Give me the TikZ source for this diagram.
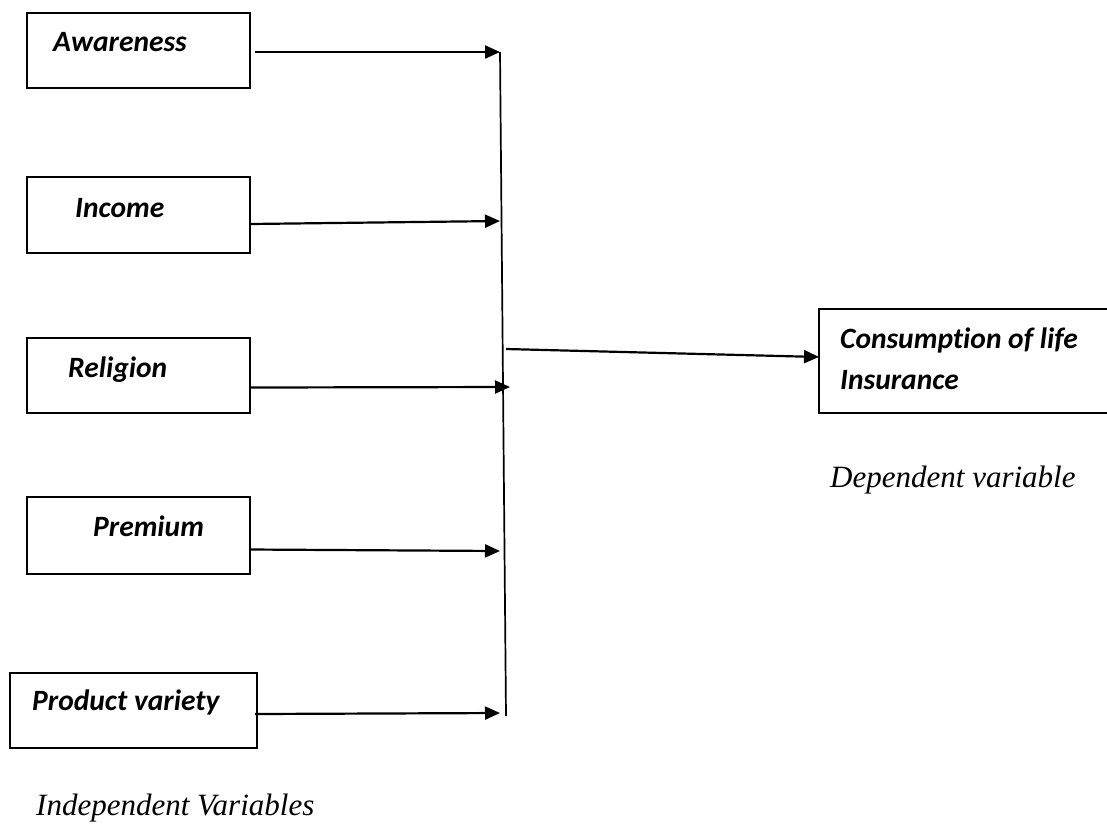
\documentclass[tikz,border=0pt]{standalone}
\usepackage{fontspec}
\setmainfont{Liberation Serif}
\setsansfont{Carlito}[Ligatures=NoCommon]
\usetikzlibrary{arrows.meta}
\tikzset{
  varbox/.style={draw, line width=1.5pt, inner sep=0pt, outer sep=0pt},
  varlbl/.style={inner sep=0pt, anchor=base west, font=\sffamily\bfseries\itshape\fontsize{29.5}{34}\selectfont},
  caption/.style={inner sep=0pt, anchor=base west, font=\itshape\fontsize{31}{37}\selectfont},
  feed/.style={line width=2.2pt, -{Triangle[length=15pt,width=13pt]}},
  bus/.style={line width=1.7pt}
}
\begin{document}
\begin{tikzpicture}[x=1pt, y=-1pt]
    \useasboundingbox (0,0) rectangle (1107,823);
    \clip (0,0) rectangle (1107,823);
    % independent variables: box left/top/right/bottom, label x/baseline
    \foreach \nm/\l/\t/\r/\b/\tx/\ty/\txt in {aw/27/13/250/88/53/51/Awareness,
        in/27/177/250/253/75/217/Income, re/27/338/250/413/68/377/Religion,
        pr/27/497/250/574/93/536/Premium, pv/10/673/257/748/32/710/Product variety} {
      \node[varbox, minimum width={\r-\l}, minimum height={\b-\t}] (\nm) at ({(\l+\r)/2},{(\t+\b)/2}) {};
      \node[varlbl] (\nm txt) at (\tx,\ty) {\txt};
    }
    % dependent variable
    \node[varbox, minimum width=301, minimum height=104] (cl) at (969.5,361) {};
    \node[varlbl] (cltxt) at (840,348) {Consumption of life};
    \node[varlbl] (cltxtb) at (840,389) {Insurance};
    % collecting line
    \coordinate (bustop) at (500,52);
    \coordinate (busbot) at (506,716);
    \coordinate (busout) at (506,349);
    \draw[bus] (bustop) -- (busbot);
    \coordinate (awtip) at (500,52);
    \coordinate (intip) at (500,221);
    \coordinate (retip) at (510,387);
    \coordinate (prtip) at (500,551);
    \coordinate (pvtip) at (500,713);
    \draw[feed] ([xshift=5pt]aw.east |- awtip) -- (awtip);
    \draw[feed] ([yshift=-9pt]in.east) -- (intip);
    \draw[feed] ([yshift=-12pt]re.east) -- (retip);
    \draw[feed] ([yshift=-14pt]pr.east) -- (prtip);
    \draw[feed] ([xshift=-2pt,yshift=-3.5pt]pv.east) -- (pvtip);
    \draw[feed] (busout) -- ([yshift=4pt]cl.west);
    % captions
    \node[caption] (indep) at (36,815) {Independent Variables};
    \node[caption] (dep) at (830,487) {Dependent variable};
\end{tikzpicture}
\end{document}
